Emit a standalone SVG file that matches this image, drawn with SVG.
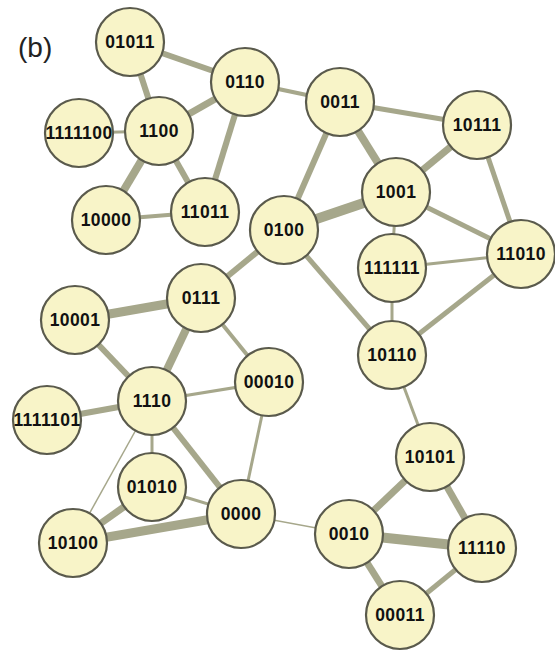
<svg xmlns="http://www.w3.org/2000/svg" width="555" height="651" viewBox="0 0 555 651">
  <style>
    .bg { fill: #ffffff; }
    .edges line { stroke: #a6a78b; stroke-linecap: butt; }
    .w1 { stroke-width: 1.5; }
    .w3 { stroke-width: 3; }
    .w4 { stroke-width: 4; }
    .w5 { stroke-width: 5; }
    .w6 { stroke-width: 6; }
    .w7 { stroke-width: 7; }
    .w8 { stroke-width: 8; }
    .w9 { stroke-width: 9; }
    .w10 { stroke-width: 10; }
    .node circle { fill: #f8f4c8; stroke: #5a5a4c; stroke-width: 2.2; }
    .node text { font-family: "Liberation Sans", Arial, Helvetica, sans-serif; font-weight: bold; font-size: 17.5px; letter-spacing: 0.4px; fill: #111111; text-anchor: middle; dominant-baseline: central; }
    .panel { font-family: "Liberation Sans", Arial, Helvetica, sans-serif; font-size: 28px; fill: #222222; }
  </style>

  <rect class="bg" x="0" y="0" width="555" height="651"/>

  <text class="panel" x="18" y="57">(b)</text>

  <!-- connectors, drawn centre to centre beneath the nodes -->
  <g id="connectors" class="edges">
    <line class="w6" x1="130" y1="42" x2="245" y2="82"/>
    <line class="w6" x1="130" y1="42" x2="159" y2="131"/>
    <line class="w3" x1="79" y1="133" x2="159" y2="131"/>
    <line class="w7" x1="159" y1="131" x2="245" y2="82"/>
    <line class="w8" x1="159" y1="131" x2="106" y2="220"/>
    <line class="w6" x1="159" y1="131" x2="205" y2="212"/>
    <line class="w6" x1="245" y1="82" x2="205" y2="212"/>
    <line class="w4" x1="106" y1="220" x2="205" y2="212"/>
    <line class="w4" x1="245" y1="82" x2="340" y2="102"/>
    <line class="w5" x1="340" y1="102" x2="477" y2="125"/>
    <line class="w8" x1="340" y1="102" x2="396" y2="192"/>
    <line class="w6" x1="340" y1="102" x2="284" y2="230"/>
    <line class="w10" x1="284" y1="230" x2="396" y2="192"/>
    <line class="w7" x1="396" y1="192" x2="477" y2="125"/>
    <line class="w5" x1="396" y1="192" x2="521" y2="254"/>
    <line class="w3" x1="396" y1="192" x2="392" y2="268"/>
    <line class="w5" x1="477" y1="125" x2="521" y2="254"/>
    <line class="w3" x1="392" y1="268" x2="521" y2="254"/>
    <line class="w3" x1="392" y1="268" x2="392" y2="355"/>
    <line class="w5" x1="284" y1="230" x2="392" y2="355"/>
    <line class="w5" x1="392" y1="355" x2="521" y2="254"/>
    <line class="w3" x1="392" y1="355" x2="430" y2="457"/>
    <line class="w6" x1="284" y1="230" x2="201" y2="298"/>
    <line class="w9" x1="201" y1="298" x2="75" y2="320"/>
    <line class="w8" x1="201" y1="298" x2="152" y2="401"/>
    <line class="w4" x1="201" y1="298" x2="269" y2="382"/>
    <line class="w6" x1="75" y1="320" x2="152" y2="401"/>
    <line class="w6" x1="47" y1="420" x2="152" y2="401"/>
    <line class="w3" x1="152" y1="401" x2="269" y2="382"/>
    <line class="w3" x1="152" y1="401" x2="152" y2="487"/>
    <line class="w6" x1="152" y1="401" x2="241" y2="514"/>
    <line class="w1" x1="152" y1="401" x2="73" y2="543"/>
    <line class="w3" x1="269" y1="382" x2="241" y2="514"/>
    <line class="w7" x1="152" y1="487" x2="73" y2="543"/>
    <line class="w3" x1="152" y1="487" x2="241" y2="514"/>
    <line class="w9" x1="73" y1="543" x2="241" y2="514"/>
    <line class="w1" x1="241" y1="514" x2="349" y2="534"/>
    <line class="w7" x1="349" y1="534" x2="430" y2="457"/>
    <line class="w10" x1="349" y1="534" x2="482" y2="548"/>
    <line class="w7" x1="349" y1="534" x2="400" y2="615"/>
    <line class="w7" x1="430" y1="457" x2="482" y2="548"/>
    <line class="w5" x1="482" y1="548" x2="400" y2="615"/>
  </g>

  <!-- nodes -->
  <g id="n01011" class="node"><circle cx="130" cy="42" r="34"/><text x="130" y="42">01011</text></g>
  <g id="n0110" class="node"><circle cx="245" cy="82" r="34"/><text x="245" y="82">0110</text></g>
  <g id="n1100" class="node"><circle cx="159" cy="131" r="34"/><text x="159" y="131">1100</text></g>
  <g id="n1111100" class="node"><circle cx="79" cy="133" r="34"/><text x="79" y="133">1111100</text></g>
  <g id="n10000" class="node"><circle cx="106" cy="220" r="34"/><text x="106" y="220">10000</text></g>
  <g id="n11011" class="node"><circle cx="205" cy="212" r="34"/><text x="205" y="212">11011</text></g>
  <g id="n0011" class="node"><circle cx="340" cy="102" r="34"/><text x="340" y="102">0011</text></g>
  <g id="n10111" class="node"><circle cx="477" cy="125" r="34"/><text x="477" y="125">10111</text></g>
  <g id="n1001" class="node"><circle cx="396" cy="192" r="34"/><text x="396" y="192">1001</text></g>
  <g id="n0100" class="node"><circle cx="284" cy="230" r="34"/><text x="284" y="230">0100</text></g>
  <g id="n111111" class="node"><circle cx="392" cy="268" r="34"/><text x="392" y="268">111111</text></g>
  <g id="n11010" class="node"><circle cx="521" cy="254" r="34"/><text x="521" y="254">11010</text></g>
  <g id="n10110" class="node"><circle cx="392" cy="355" r="34"/><text x="392" y="355">10110</text></g>
  <g id="n0111" class="node"><circle cx="201" cy="298" r="34"/><text x="201" y="298">0111</text></g>
  <g id="n10001" class="node"><circle cx="75" cy="320" r="34"/><text x="75" y="320">10001</text></g>
  <g id="n1110" class="node"><circle cx="152" cy="401" r="34"/><text x="152" y="401">1110</text></g>
  <g id="n00010" class="node"><circle cx="269" cy="382" r="34"/><text x="269" y="382">00010</text></g>
  <g id="n1111101" class="node"><circle cx="47" cy="420" r="34"/><text x="47" y="420">1111101</text></g>
  <g id="n01010" class="node"><circle cx="152" cy="487" r="34"/><text x="152" y="487">01010</text></g>
  <g id="n0000" class="node"><circle cx="241" cy="514" r="34"/><text x="241" y="514">0000</text></g>
  <g id="n10100" class="node"><circle cx="73" cy="543" r="34"/><text x="73" y="543">10100</text></g>
  <g id="n10101" class="node"><circle cx="430" cy="457" r="34"/><text x="430" y="457">10101</text></g>
  <g id="n0010" class="node"><circle cx="349" cy="534" r="34"/><text x="349" y="534">0010</text></g>
  <g id="n11110" class="node"><circle cx="482" cy="548" r="34"/><text x="482" y="548">11110</text></g>
  <g id="n00011" class="node"><circle cx="400" cy="615" r="34"/><text x="400" y="615">00011</text></g>
</svg>
